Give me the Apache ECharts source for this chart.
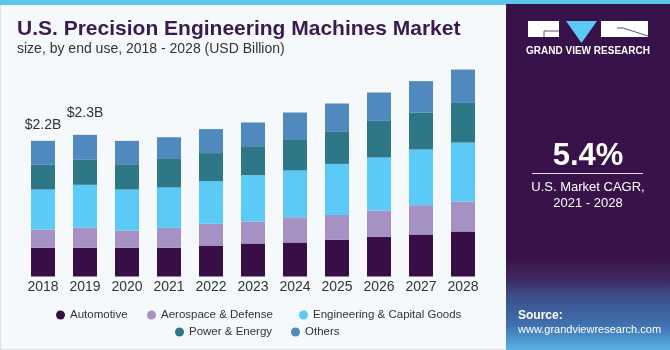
<!DOCTYPE html>
<html>
<head>
<meta charset="utf-8">
<script src="https://cdn.jsdelivr.net/npm/echarts@6/dist/echarts.min.js"></script>
<style>html,body{margin:0;padding:0;background:#f5f9fc;}#c{width:670px;height:350px;}</style>
</head>
<body>
<div id="c"></div>
<script>
const categories = ['2018','2019','2020','2021','2022','2023','2024','2025','2026','2027','2028'];
const seriesNames = ['Automotive','Aerospace & Defense','Engineering & Capital Goods','Power & Energy','Others'];
const automotive  = [0.465,0.465,0.465,0.465,0.502,0.535,0.551,0.593,0.642,0.681,0.729];
const aerospace   = [0.297,0.324,0.280,0.324,0.352,0.357,0.410,0.405,0.428,0.475,0.486];
const engineering = [0.648,0.697,0.665,0.653,0.692,0.750,0.757,0.827,0.859,0.903,0.956];
const power       = [0.400,0.405,0.410,0.475,0.454,0.470,0.507,0.519,0.593,0.600,0.642];
const others      = [0.389,0.405,0.378,0.340,0.389,0.384,0.433,0.460,0.460,0.507,0.541];
const totalLabels = ['$2.2B','$2.3B'];
const colors = ['#370f46','#a591c4','#5bcaf6','#2e7787','#4f89bd'];

const chart = echarts.init(document.getElementById('c'));
const values = [automotive, aerospace, engineering, power, others];
const labelDist = [9, 15];
const series = seriesNames.map((name, si) => ({
  name, type: 'bar', stack: 'total', barWidth: 24,
  itemStyle: { color: colors[si] },
  data: values[si].map((v, i) => {
    if (si === 4 && i < totalLabels.length) {
      return { value: v, label: { show: true, position: 'top', distance: labelDist[i], formatter: totalLabels[i],
        color: '#333', fontSize: 14, fontFamily: 'Liberation Sans, Arial, sans-serif' } };
    }
    return v;
  })
}));

const legendText = { color: '#333', fontSize: 11.5, fontFamily: 'Liberation Sans, Arial, sans-serif' };
const legendPos = [[51, 304], [142, 304], [294, 304], [170, 321], [286, 321]];
const legends = seriesNames.map((n, i) => ({
  data: [n], left: legendPos[i][0], top: legendPos[i][1], icon: 'circle', itemWidth: 9, itemHeight: 9, textStyle: legendText
}));

chart.setOption({
  backgroundColor: '#f5f9fc',
  animation: false,
  grid: { left: 22, right: 186, top: 29.7, bottom: 73.5 },
  xAxis: { type: 'category', data: categories, axisLine: { show: false }, axisTick: { show: false },
    axisLabel: { color: '#333', fontSize: 14, margin: 4, fontFamily: 'Liberation Sans, Arial, sans-serif' } },
  yAxis: { type: 'value', min: 0, max: 4, show: false, splitLine: { show: false } },
  legend: legends,
  series,
  graphic: [
    { type: 'rect', z: -10, shape: { x: 0, y: 0, width: 670, height: 350 }, style: { fill: '#f5f9fc', stroke: '#c8c8c8', lineWidth: 1 } },
    { type: 'rect', z: -5, shape: { x: 0, y: 0, width: 670, height: 5 }, style: { fill: '#5cc6ef' } },
    { type: 'rect', z: -4, shape: { x: 506, y: 4, width: 164, height: 346 },
      style: { fill: new echarts.graphic.LinearGradient(0, 0, 0, 1, [
        { offset: 0, color: '#371149' }, { offset: 0.73, color: '#381249' }, { offset: 0.8, color: '#3e2c62' },
        { offset: 0.84, color: '#3c4c88' }, { offset: 0.93, color: '#3f72b0' }, { offset: 1, color: '#58b2e4' }]) } },
    // logo
    { type: 'rect', shape: { x: 528, y: 21, width: 31, height: 16 }, style: { fill: '#ffffff' } },
    { type: 'polyline', shape: { points: [[559, 31], [544, 31], [544, 37]] }, style: { stroke: '#6a4b80', lineWidth: 1, fill: null } },
    { type: 'polygon', shape: { points: [[566, 21], [597, 21], [581.5, 43]] }, style: { fill: '#5bc8f5' } },
    { type: 'rect', shape: { x: 601, y: 21, width: 47, height: 16 }, style: { fill: '#ffffff' } },
    { type: 'polyline', shape: { points: [[617, 28], [623, 28], [648, 36]] }, style: { stroke: '#6a4b80', lineWidth: 1, fill: null } },
    { type: 'text', style: { x: 588, y: 51.5, text: 'GRAND VIEW RESEARCH', fill: '#ffffff', font: 'bold 10px "Liberation Sans", Arial, sans-serif', align: 'center', verticalAlign: 'middle' } },
    // title
    { type: 'text', style: { x: 17, y: 29, text: 'U.S. Precision Engineering Machines Market', fill: '#3a1a4f', font: 'bold 21px "Liberation Sans", Arial, sans-serif', verticalAlign: 'middle' } },
    { type: 'text', style: { x: 17, y: 49, text: 'size, by end use, 2018 - 2028 (USD Billion)', fill: '#333333', font: '14px "Liberation Sans", Arial, sans-serif', verticalAlign: 'middle' } },
    // CAGR
    { type: 'text', style: { x: 588, y: 156, text: '5.4%', fill: '#ffffff', font: 'bold 31px "Liberation Sans", Arial, sans-serif', align: 'center', verticalAlign: 'middle' } },
    { type: 'line', shape: { x1: 532, y1: 173.5, x2: 643, y2: 173.5 }, style: { stroke: '#e4dcea', lineWidth: 1 } },
    { type: 'text', style: { x: 588, y: 187, text: 'U.S. Market CAGR,', fill: '#ffffff', font: '13px "Liberation Sans", Arial, sans-serif', align: 'center', verticalAlign: 'middle' } },
    { type: 'text', style: { x: 588, y: 203, text: '2021 - 2028', fill: '#ffffff', font: '13px "Liberation Sans", Arial, sans-serif', align: 'center', verticalAlign: 'middle' } },
    { type: 'text', style: { x: 518, y: 316, text: 'Source:', fill: '#ffffff', font: 'bold 12px "Liberation Sans", Arial, sans-serif', verticalAlign: 'middle' } },
    { type: 'text', style: { x: 518, y: 330, text: 'www.grandviewresearch.com', fill: '#ffffff', font: '11px "Liberation Sans", Arial, sans-serif', verticalAlign: 'middle' } }
  ]
});
</script>
</body>
</html>
